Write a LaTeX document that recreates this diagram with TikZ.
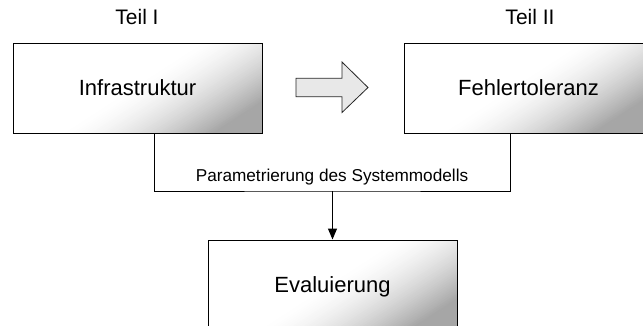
\documentclass[tikz,border=0pt]{standalone}
\usepackage{fontspec}
\setmainfont{Liberation Sans}
\usetikzlibrary{arrows.meta}
\begin{document}
\begin{tikzpicture}[x=1pt,y=-1pt,
  % diagonal grey fade towards the lower right corner, built from thin bands;
  % bands run across the direction (0.545,0.839), measured from the box centre
  fade/.style={path picture={
    \begin{scope}[shift={(path picture bounding box.center)}]
      \foreach \i in {0,...,42} {
        \pgfmathsetmacro\shadeval{70*(\i/42)^1.6}
        \pgfmathsetmacro\ta{20+2*\i}
        \pgfmathsetmacro\tb{22.6+2*\i}
        \fill[gray!\shadeval]
          ({\ta*0.545+300*0.839},{\ta*0.839-300*0.545}) --
          ({\tb*0.545+300*0.839},{\tb*0.839-300*0.545}) --
          ({\tb*0.545-300*0.839},{\tb*0.839+300*0.545}) --
          ({\ta*0.545-300*0.839},{\ta*0.839+300*0.545}) -- cycle;
      }
      \fill[gray!70]
        ({106*0.545+300*0.839},{106*0.839-300*0.545}) --
        ({400*0.545+300*0.839},{400*0.839-300*0.545}) --
        ({400*0.545-300*0.839},{400*0.839+300*0.545}) --
        ({106*0.545-300*0.839},{106*0.839+300*0.545}) -- cycle;
    \end{scope}}},
  part/.style={draw=black, line width=1pt, fade,
    minimum width=249pt, minimum height=90pt, inner sep=0pt,
    font=\fontsize{22}{26}\selectfont, text height=15.8pt, text depth=0pt},
  title/.style={font=\fontsize{21}{25}\selectfont, anchor=base, inner sep=0pt},
  link/.style={draw=black, line width=1pt},
  caption/.style={font=\fontsize{17.2}{20}\selectfont, anchor=base, inner sep=0pt}
]
\useasboundingbox (0,0) rectangle (643,325);

% the two parts and the evaluation
\node[part] (infra) at (137.5,88) {Infrastruktur};
\node[part] (fehler) at (528.5,88) {Fehlertoleranz};
\node[part] (eval) at (332.5,285) {Evaluierung};

\node[title] (teil1) at (137,24) {Teil I};
\node[title] (teil2) at (530,24) {Teil II};

% block arrow between the parts
\draw[fill=gray!18, draw=black!85, line width=0.8pt]
  (296,78.3) -- (342,78.3) -- (342,62) -- (368,87.5) -- (342,112.5) -- (342,96.7) -- (296,96.7) -- cycle;

% joining line and arrow down to the evaluation
\coordinate (join) at (332.5,191);
\draw[link] ([xshift=16.5pt]infra.south) |- (join) -| ([xshift=-18.5pt]fehler.south);
\draw[link, -{Triangle[length=11pt,width=9pt]}] (join) -- (eval.north);

\node[caption] (param) at (332,181.5) {Parametrierung des Systemmodells};
\end{tikzpicture}
\end{document}
